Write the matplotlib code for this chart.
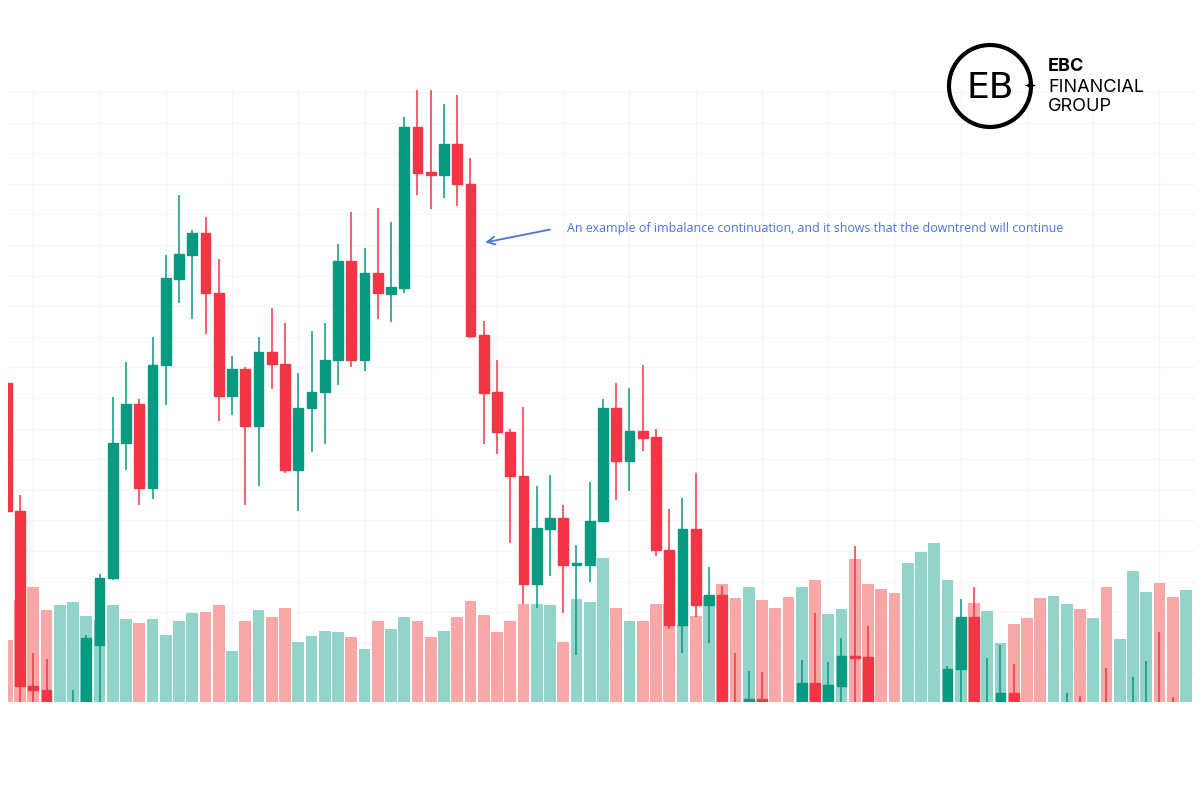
import matplotlib.pyplot as plt
from matplotlib.patches import Circle, Rectangle

# price levels (screen rows, larger = lower price)
opens = [383, 511, 686, 690, 730, 760, 720, 645, 578, 443, 404, 488, 365, 279, 255, 233, 293, 396, 369, 426,
         352, 364, 470, 408, 392, 360, 261, 360, 273, 294, 288, 127, 172, 175, 144, 184, 335, 392, 432, 476,
         584, 529, 518, 565, 565, 521, 408, 461, 431, 437, 550, 625, 529, 605, 595, 720, 715, 699, 740, 740,
         720, 683, 720, 686, 656, 657, 760, 760, 760, 760, 760, 720, 669, 617, 730, 720, 693, 760, 760, 760,
         730, 710, 760, 710, 760, 730, 730, 710, 710, 760]
closes = [511, 686, 690, 720, 750, 720, 638, 578, 443, 404, 488, 365, 278, 254, 233, 293, 396, 369, 426, 352,
          364, 470, 408, 392, 360, 261, 360, 273, 293, 287, 127, 173, 175, 144, 184, 336, 393, 432, 476, 584,
          528, 518, 565, 563, 521, 408, 461, 431, 438, 550, 625, 529, 605, 595, 720, 740, 699, 715, 760, 760,
          683, 720, 685, 656, 657, 720, 780, 780, 780, 780, 780, 669, 617, 720, 710, 693, 720, 780, 780, 780,
          710, 730, 780, 730, 780, 710, 710, 730, 730, 780]
highs = [380, 495, 653, 659, 730, 690, 635, 574, 397, 362, 399, 337, 255, 195, 230, 217, 259, 356, 367, 337,
         308, 323, 373, 331, 323, 244, 212, 248, 208, 222, 117, 88, 86, 104, 95, 158, 321, 360, 429, 407,
         486, 475, 505, 545, 482, 399, 383, 388, 365, 429, 509, 498, 473, 567, 586, 653, 671, 672, 740, 740,
         660, 613, 662, 638, 546, 626, 760, 760, 760, 760, 760, 666, 599, 587, 658, 645, 664, 760, 760, 760,
         693, 696, 760, 668, 760, 677, 661, 632, 697, 760]
lows = [511, 705, 710, 725, 760, 770, 730, 708, 580, 470, 505, 499, 405, 303, 319, 334, 421, 415, 505, 486,
        389, 473, 511, 452, 444, 385, 367, 371, 319, 322, 293, 195, 209, 198, 206, 338, 444, 454, 543, 604,
        608, 576, 613, 655, 582, 522, 500, 491, 451, 556, 629, 653, 617, 643, 730, 750, 720, 720, 780, 780,
        730, 730, 730, 730, 730, 730, 790, 790, 790, 790, 790, 730, 730, 730, 740, 730, 730, 790, 790, 790,
        740, 740, 790, 740, 790, 740, 740, 740, 740, 790]
vol_tops = [640, 600, 587, 610, 605, 602, 616, 620, 605, 619, 623, 619, 635, 621, 613, 612, 605, 651, 621, 610,
            617, 608, 642, 636, 631, 632, 637, 649, 621, 629, 617, 621, 637, 631, 617, 601, 615, 632, 621, 604,
            604, 605, 642, 599, 602, 558, 608, 621, 621, 604, 604, 625, 616, 596, 584, 598, 587, 600, 608, 597,
            587, 580, 614, 609, 559, 584, 589, 593, 563, 552, 543, 580, 620, 603, 611, 643, 624, 618, 598, 596,
            604, 609, 618, 587, 639, 571, 592, 583, 597, 590]
vol_up = [0, 0, 0, 0, 1, 1, 1, 1, 1, 1, 0, 1, 1, 1, 1, 0, 0, 1, 0, 1,
          0, 0, 1, 1, 1, 1, 0, 1, 0, 1, 1, 0, 0, 1, 0, 0, 0, 0, 0, 0,
          1, 1, 0, 1, 1, 1, 0, 1, 0, 0, 0, 1, 0, 1, 0, 0, 1, 0, 0, 0,
          1, 0, 1, 1, 0, 0, 0, 0, 1, 1, 1, 1, 1, 0, 1, 1, 0, 0, 0, 1,
          1, 0, 1, 0, 1, 1, 1, 0, 0, 1]

note = "An example of imbalance continuation, and it shows that the downtrend will continue"

GREEN, RED = "#089981", "#f23645"
VGREEN, VRED = "#92d3ca", "#f7a8a7"
BASE = 702

fig = plt.figure(figsize=(12, 7.88), dpi=100)
# plot area spans screen x 8..1195, y 90..702
ax = fig.add_axes([8 / 1200, 1 - 702 / 788, 1187 / 1200, 612 / 788])
ax.set_xlim(0.094, 89.68)
ax.set_ylim(BASE, 90)
for s in ax.spines.values():
    s.set_visible(False)
ax.set_xticks([])
ax.set_yticks([])

for gx in range(2, 90, 5):
    ax.axvline(gx, color="#f5f6f9", lw=1, zorder=0)
gy = 92
while gy < BASE:
    ax.axhline(gy, color="#f5f6f9", lw=1, zorder=0)
    gy += 30.6

n = len(opens)
xs = list(range(n))
ax.bar(xs, [BASE - t for t in vol_tops], bottom=vol_tops, width=0.9,
       color=[VGREEN if u else VRED for u in vol_up], zorder=1)

for i in range(n):
    up = closes[i] < opens[i]
    c = GREEN if up else RED
    ax.vlines(i, highs[i], lows[i], color=c, lw=1.1, zorder=2)
    top, bot = min(opens[i], closes[i]), max(opens[i], closes[i])
    ax.add_patch(Rectangle((i - 0.37, top), 0.74, max(bot - top, 2.5), color=c, zorder=3))

ax.annotate("", xy=(35.9, 243), xytext=(41.2, 229),
            arrowprops=dict(arrowstyle="->", color="#4a74d6", lw=1.3, mutation_scale=14))
ax.text(42.3, 229, note, color="#4a74d6", fontsize=8.9, va="center", family="Open Sans")

# logo
la = fig.add_axes([0, 0, 1, 1], zorder=5)
la.set_xlim(0, 1200)
la.set_ylim(788, 0)
la.axis("off")
la.patch.set_alpha(0)
la.add_patch(Circle((990, 86), 41, fill=False, lw=3, color="black"))
la.text(990, 88, "EB", fontsize=26, ha="center", va="center", color="black", family="DejaVu Sans")
la.text(1030, 86, "\u2726", fontsize=11, ha="center", va="center", color="black")
la.text(1048, 66, "EBC", fontsize=13, fontweight="bold", va="center", family="Inter")
la.text(1048, 87, "FINANCIAL", fontsize=13, va="center", family="Inter")
la.text(1048, 106, "GROUP", fontsize=13, va="center", family="Inter")

fig.savefig("out.png", dpi=100)
